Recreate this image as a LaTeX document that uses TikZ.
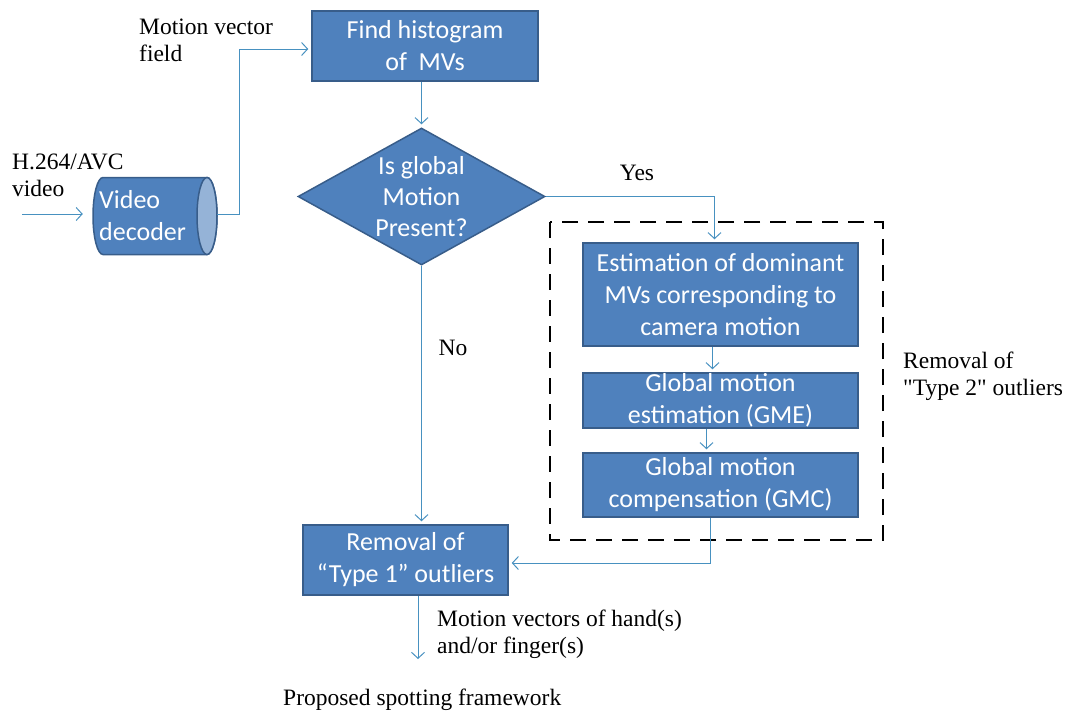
\documentclass[tikz,border=0pt]{standalone}
\usepackage{fontspec}
\setmainfont{Liberation Serif}
\newfontfamily\rawserif{Liberation Serif}[Ligatures=TeXOff]
\newfontfamily\boxfont{Carlito}
\usetikzlibrary{shapes.geometric,arrows.meta}
\definecolor{boxfill}{RGB}{79,129,189}
\definecolor{boxedge}{RGB}{56,93,138}
\definecolor{linecol}{RGB}{72,145,192}
\definecolor{capfill}{RGB}{149,179,215}
\begin{document}
\begin{tikzpicture}[x=1pt,y=-1pt,
  proc/.style={draw=boxedge, line width=1.5pt, fill=boxfill, text=white,
    font=\boxfont\fontsize{26}{32}\selectfont, align=center, inner sep=0pt},
  conn/.style={draw=linecol, line width=1pt, -{Straight Barb[length=6pt,width=13pt]}, shorten >=3pt},
  lbl/.style={font=\fontsize{23.5}{27}\selectfont, align=left, inner sep=0pt, anchor=west},
  frame/.style={draw=black, line width=2.5pt, dash pattern=on 16pt off 10pt},
  cylbody/.style={draw=boxedge, line width=1.5pt, fill=boxfill}
]
\useasboundingbox (0,0) rectangle (1074,716);

% boxes
\node[proc, minimum width=226, minimum height=70] (hist) at (425,46) {Find histogram\\of\ \ MVs};
\node[diamond, draw=boxedge, fill=boxfill, line width=1.5pt, minimum width=247, minimum height=137, inner sep=0pt,
  label={[text=white, font=\boxfont\fontsize{26}{31}\selectfont, align=center]center:Is global\\Motion\\Present?}] (q) at (421.5,196.5) {};

% video decoder cylinder
\node[minimum width=124, minimum height=77, inner sep=0pt] (dec) at (155,216) {};
\draw[cylbody] (103,177.5) -- (207,177.5) arc(90:-90:10pt and 38.5pt) -- (103,254.5) arc(270:90:10pt and 38.5pt) -- cycle;
\draw[cylbody, fill=capfill] (207,216) ellipse (10pt and 38.5pt);
\node[text=white, font=\boxfont\fontsize{26}{32}\selectfont, align=left, inner sep=0pt, anchor=west] (dectext) at (99,216) {Video\\decoder};

\node[proc, minimum width=275, minimum height=103] (est) at (720.5,294.5) {Estimation of dominant\\MVs corresponding to\\camera motion};
\node[proc, minimum width=275, minimum height=55, inner ysep=-3pt] (gme) at (720.5,400.5) {Global motion\\estimation (GME)};
\node[proc, minimum width=275, minimum height=64] (gmc) at (720.5,485) {Global motion\\compensation (GMC)};
\node[proc, minimum width=205, minimum height=70] (rem) at (405.5,560) {Removal of\\“Type 1” outliers};

% dashed frame
\draw[frame] (550,222) rectangle (883,540);

% labels
\node[lbl] (l1) at (139,40) {Motion vector\\field};
\node[lbl] (l2) at (12,175) {H.264/AVC\\video};
\node[lbl, anchor=center] (yes) at (637,173) {Yes};
\node[lbl, anchor=center] (no) at (453,348) {No};
\node[lbl, font=\rawserif\fontsize{23.5}{27}\selectfont] (l3) at (903,376) {Removal of\\"Type 2" outliers};
\node[lbl] (l4) at (437,634) {Motion vectors of hand(s)\\and/or finger(s)};
\node[lbl] (l5) at (283,700) {Proposed spotting framework};

% connectors
\coordinate (in) at (22,214);
\coordinate (out) at (418,662);
\draw[conn, shorten >=10pt] (in) -- (in -| dec.west);
\draw[conn] (dec.east |- in) -- (239,214) |- ([yshift=-3pt]hist.west);
\draw[conn] (hist.south -| q.north) -- (q.north);
\draw[conn] (q.east) -| ([xshift=-6pt]est.north);
\draw[conn] ([xshift=-8pt]est.south) -- ([xshift=-8pt]gme.north);
\draw[conn] ([xshift=-14pt]gme.south) -- ([xshift=-14pt]gmc.north);
\draw[conn] ([xshift=-10pt]gmc.south) |- ([yshift=-3pt]rem.east);
\draw[conn] (q.south) -- (q.south |- rem.north);
\draw[conn] (out |- rem.south) -- (out);
\end{tikzpicture}
\end{document}
